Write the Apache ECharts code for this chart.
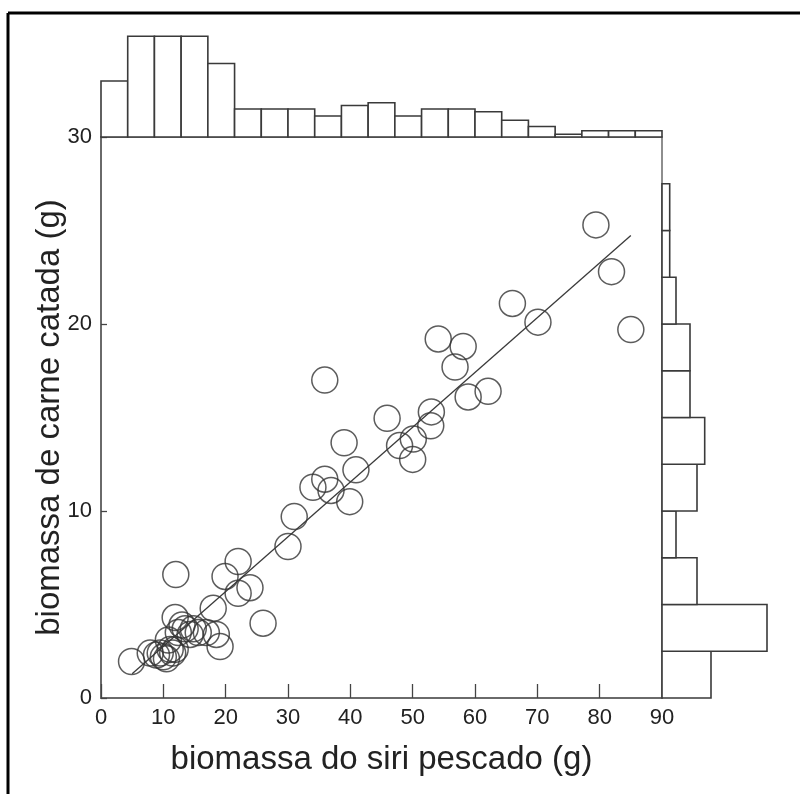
<!DOCTYPE html>
<html>
<head>
<meta charset="utf-8">
<script src="https://cdn.jsdelivr.net/npm/echarts@6/dist/echarts.min.js"></script>
<style>
  html, body { margin: 0; padding: 0; background: #fff; }
  #chart { width: 800px; height: 794px; }
</style>
</head>
<body>
<div id="chart"></div>
<script>
// crab biomass (x) vs. picked meat biomass (y), grams
const crabX = [79.4, 81.9, 85, 70.1, 66, 54.1, 58.1, 56.8, 35.9, 62.1, 58.9, 53, 45.9, 52.9, 50.1, 47.9,
  39, 50, 40.9, 35.9, 34, 36.9, 39.9, 31, 30, 22, 12, 19.9, 23.9, 22, 26, 18,
  11.9, 12.4, 13.5, 14.3, 14.8, 15.6, 16.9, 18.5, 19.1, 10.8, 11.1, 11.9, 13,
  4.9, 7.9, 8.9, 10, 10.5, 9.5, 11.5];
const meatY = [25.3, 22.8, 19.7, 20.1, 21.1, 19.2, 18.8, 17.7, 17.0, 16.4, 16.1, 15.3, 14.96, 14.56, 13.85, 13.5,
  13.65, 12.76, 12.2, 11.7, 11.27, 11.1, 10.5, 9.7, 8.1, 7.3, 6.6, 6.5, 5.9, 5.6, 4.0, 4.8,
  4.3, 3.5, 3.7, 3.4, 3.7, 3.5, 3.5, 3.4, 2.75, 3.1, 2.6, 2.6, 3.9,
  1.95, 2.4, 2.3, 2.2, 2.1, 2.4, 2.4];

// fitted line y = a + b x, drawn over the observed range
const fitSlope = 0.293;
const fitIntercept = -0.17;
const fitFrom = 5;
const fitTo = 85;

// marginal histogram of x: 21 equal bins over 0-90
const topBinStart = 0;
const topBinEnd = 90;
const topCounts = [8, 14.4, 14.4, 14.4, 10.5, 4, 4, 4, 3, 4.5, 4.9, 3, 4, 4, 3.6, 2.4, 1.5, 0.4, 0.9, 0.9, 0.9];

// marginal histogram of y: bins of 2.5 g from 0 upward
const rightBinWidth = 2.5;
const rightCounts = [7, 15, 5, 2, 5, 6.1, 4, 4, 2, 1.1, 1.1];

const xTicks = [0, 10, 20, 30, 40, 50, 60, 70, 80, 90];
const yTicks = [0, 10, 20, 30];

const chart = echarts.init(document.getElementById('chart'));

const topW = (topBinEnd - topBinStart) / topCounts.length;
const topData = topCounts.map((c, i) => [topBinStart + i * topW, topBinStart + (i + 1) * topW, c]);
const rightData = rightCounts.map((c, i) => [i * rightBinWidth, (i + 1) * rightBinWidth, c]);

const barStyle = { fill: '#fff', stroke: '#3a3a3a', lineWidth: 1.6 };
const font = 'Liberation Sans, Arial, sans-serif';

chart.setOption({
  animation: false,
  grid: [
    { left: 101, top: 137, width: 561, height: 561, show: true, borderColor: '#6a6a6a', borderWidth: 1.5 },
    { left: 101, top: 32, width: 561, height: 105 },
    { left: 662, top: 137, width: 105, height: 561 }
  ],
  xAxis: [
    {
      gridIndex: 0, type: 'value', min: 0, max: 90, interval: 10,
      name: 'biomassa do siri pescado (g)', nameLocation: 'middle', nameGap: 45, nameMoveOverlap: false,
      nameTextStyle: { fontFamily: font, fontSize: 33, color: '#222' },
      axisLine: { show: true, lineStyle: { color: '#6a6a6a', width: 2 } },
      axisTick: { show: true, inside: true, length: 14, lineStyle: { color: '#444', width: 1.3 } },
      axisLabel: { fontFamily: font, fontSize: 22, color: '#222', margin: 9,
        customValues: xTicks },
      splitLine: { show: false }
    },
    { gridIndex: 1, type: 'value', min: 0, max: 90, show: false },
    { gridIndex: 2, type: 'value', min: 0, max: 15, show: false }
  ],
  yAxis: [
    {
      gridIndex: 0, type: 'value', min: 0, max: 30, interval: 10,
      name: 'biomassa de carne catada (g)', nameLocation: 'middle', nameGap: 35, nameMoveOverlap: false,
      nameTextStyle: { fontFamily: font, fontSize: 33, color: '#222' },
      axisLine: { show: true, lineStyle: { color: '#6a6a6a', width: 2 } },
      axisTick: { show: true, inside: true, length: 6, lineStyle: { color: '#444', width: 1.3 } },
      axisLabel: { fontFamily: font, fontSize: 22, color: '#222', margin: 9,
        customValues: yTicks },
      splitLine: { show: false }
    },
    { gridIndex: 1, type: 'value', min: 0, max: 15, show: false },
    { gridIndex: 2, type: 'value', min: 0, max: 30, show: false }
  ],
  series: [
    {
      type: 'custom', xAxisIndex: 1, yAxisIndex: 1, data: topData,
      renderItem: function (params, api) {
        const a = api.coord([api.value(0), 0]);
        const b = api.coord([api.value(1), api.value(2)]);
        return { type: 'rect', shape: { x: a[0], y: b[1], width: b[0] - a[0], height: a[1] - b[1] }, style: barStyle };
      }
    },
    {
      type: 'custom', xAxisIndex: 2, yAxisIndex: 2, data: rightData,
      renderItem: function (params, api) {
        const a = api.coord([0, api.value(0)]);
        const b = api.coord([api.value(2), api.value(1)]);
        return { type: 'rect', shape: { x: a[0], y: b[1], width: b[0] - a[0], height: a[1] - b[1] }, style: barStyle };
      }
    },
    {
      type: 'line', xAxisIndex: 0, yAxisIndex: 0, showSymbol: false, silent: true,
      data: [[fitFrom, fitIntercept + fitSlope * fitFrom], [fitTo, fitIntercept + fitSlope * fitTo]],
      lineStyle: { color: '#3a3a3a', width: 1.3 }
    },
    {
      type: 'scatter', xAxisIndex: 0, yAxisIndex: 0, symbol: 'circle', symbolSize: 26,
      data: crabX.map((x, i) => [x, meatY[i]]),
      itemStyle: { color: 'rgba(0,0,0,0)', borderColor: '#333', borderWidth: 1.5 }
    }
  ],
  graphic: [
    { type: 'line', shape: { x1: 8, y1: 13, x2: 800, y2: 13 }, style: { stroke: '#000', lineWidth: 3 } },
    { type: 'line', shape: { x1: 8, y1: 13, x2: 8, y2: 794 }, style: { stroke: '#000', lineWidth: 3 } }
  ]
});
</script>
</body>
</html>
